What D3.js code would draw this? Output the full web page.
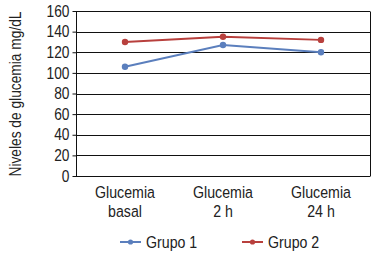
<!DOCTYPE html>
<html>
<head>
<meta charset="utf-8">
<script src="https://cdn.jsdelivr.net/npm/d3@7"></script>
<style>
  body { margin: 0; background: #fff; }
  text { font-family: "Liberation Sans", Arial, sans-serif; fill: #222; }
</style>
</head>
<body>
<script>
var categories = [["Glucemia", "basal"], ["Glucemia", "2 h"], ["Glucemia", "24 h"]];
var grupo1 = [106, 127, 120];
var grupo2 = [130, 135, 132];
var yTicks = [0, 20, 40, 60, 80, 100, 120, 140, 160];
var seriesNames = ["Grupo 1", "Grupo 2"];
var colors = ["#5b7fbd", "#b8403d"];

var W = 375, H = 254;
var margin = {top: 11, right: 5, bottom: 78, left: 76},
    width = W - margin.left - margin.right,
    height = H - margin.top - margin.bottom;
var squeeze = 0.86; // the original type is a condensed face

var svg = d3.select("body").append("svg")
    .attr("width", W)
    .attr("height", H);

var g = svg.append("g")
    .attr("transform", "translate(" + margin.left + "," + margin.top + ")");

var x = d3.scaleBand()
    .domain(d3.range(categories.length))
    .range([0, width]);

var y = d3.scaleLinear()
    .domain([0, 160])
    .range([height, 0]);

function cx(d, i) { return x(i) + x.bandwidth() / 2; }

// gridlines
g.selectAll(".grid")
    .data(yTicks)
  .enter().append("line")
    .attr("x1", 0)
    .attr("x2", width)
    .attr("y1", function(d) { return Math.round(y(d)) + 0.5; })
    .attr("y2", function(d) { return Math.round(y(d)) + 0.5; })
    .attr("stroke", "#111");

// right border
g.append("line")
    .attr("x1", width + 0.5).attr("x2", width + 0.5)
    .attr("y1", Math.round(y(160)) + 0.5).attr("y2", Math.round(y(0)) + 0.5)
    .attr("stroke", "#111");

// y axis
var yAxis = d3.axisLeft(y)
    .tickValues(yTicks)
    .tickSize(4)
    .tickPadding(3);

var yg = g.append("g")
    .attr("transform", "translate(0.5,0)")
    .call(yAxis);
yg.select(".domain").attr("stroke", "#111")
    .attr("d", "M0," + (Math.round(y(160)) + 0.5) + "V" + (Math.round(y(0)) + 0.5));
yg.selectAll(".tick line").attr("stroke", "#111");
yg.selectAll(".tick text")
    .attr("font-size", 16)
    .style("font-family", "'Liberation Sans', Arial, sans-serif")
    .attr("fill", "#222")
    .attr("x", null)
    .attr("transform", "translate(-7,0) scale(" + squeeze + ",1)");

// y title
svg.append("text")
    .attr("transform", "translate(21,94) rotate(-90) scale(" + squeeze + ",1)")
    .attr("text-anchor", "middle")
    .attr("font-size", 16)
    .text("Niveles de glucemia mg/dL");

// category labels
var cat = g.selectAll(".cat")
    .data(categories)
  .enter().append("text")
    .attr("text-anchor", "middle")
    .attr("font-size", 16.5)
    .attr("transform", function(d, i) {
      return "translate(" + cx(d, i) + "," + (height + 22) + ") scale(" + squeeze + ",1)";
    });
cat.append("tspan")
    .attr("x", 0)
    .text(function(d) { return d[0]; });
cat.append("tspan")
    .attr("x", 0)
    .attr("dy", 19.5)
    .text(function(d) { return d[1]; });

// series
var series = [grupo1, grupo2];
var line = d3.line()
    .x(function(d, i) { return cx(d, i); })
    .y(function(d) { return y(d); });

series.forEach(function(s, k) {
  g.append("path")
      .datum(s)
      .attr("fill", "none")
      .attr("stroke", colors[k])
      .attr("stroke-width", 2)
      .attr("d", line);
  g.selectAll(".pt" + k)
      .data(s)
    .enter().append("circle")
      .attr("cx", cx)
      .attr("cy", function(d) { return y(d); })
      .attr("r", 3.2)
      .attr("fill", colors[k]);
});

// legend
var legX = [120, 242];
var legend = svg.selectAll(".leg")
    .data(seriesNames)
  .enter().append("g")
    .attr("transform", function(d, i) { return "translate(" + legX[i] + ",242)"; });
legend.append("line")
    .attr("x1", 0).attr("x2", 21)
    .attr("stroke", function(d, i) { return colors[i]; })
    .attr("stroke-width", 2);
legend.append("circle")
    .attr("cx", 10.5).attr("r", 2.6)
    .attr("fill", function(d, i) { return colors[i]; });
legend.append("text")
    .attr("transform", "translate(26,6) scale(" + squeeze + ",1)")
    .attr("font-size", 16.5)
    .text(function(d) { return d; });
</script>
</body>
</html>
